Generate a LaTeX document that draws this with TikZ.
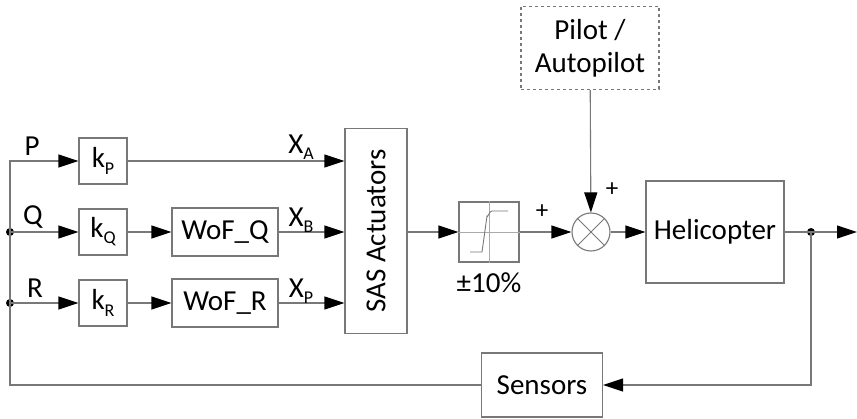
\documentclass[tikz,border=0pt]{standalone}
\usepackage{tikz}
\usetikzlibrary{arrows.meta,positioning}
\usepackage{fontspec}
\setmainfont{Carlito}
\definecolor{LineGray}{RGB}{120,120,120}
\definecolor{IconGray}{RGB}{170,170,170}
\newcommand{\lowsub}[1]{\raisebox{-0.45ex}{\fontsize{18}{18}\selectfont #1}}

\begin{document}
\begin{tikzpicture}[x=1pt, y=-1pt,
    blk/.style={draw=LineGray, line width=1.1pt, inner sep=0pt, align=center, font=\fontsize{29}{33}\selectfont},
    gain/.style={blk, minimum width=48pt, minimum height=46pt},
    wof/.style={blk, minimum width=106pt, minimum height=48pt},
    lbl/.style={font=\fontsize{29}{33}\selectfont, inner sep=0pt},
    sgn/.style={font=\fontsize{25}{29}\selectfont, inner sep=0pt},
    line/.style={draw=LineGray, line width=1.1pt},
    arr/.style={line, -{Triangle[length=20pt, width=13pt, color=black]}},
    jdot/.style={circle, fill=black, inner sep=0pt, minimum size=8pt}
]
\useasboundingbox (0,0) rectangle (857,419);

%% ---- GAINS AND FILTERS ----
\node[gain] (kp)   at (103,161) {k\lowsub{P}};
\node[gain] (kq)   at (103,232) {k\lowsub{Q}};
\node[gain] (kr)   at (103,303) {k\lowsub{R}};
\node[wof]  (wofq) at (225,232) {WoF\_Q};
\node[wof]  (wofr) at (225,303) {WoF\_R};
\node[blk, rotate=90, minimum width=205pt, minimum height=62pt] (sas) at (376,231) {SAS Actuators};

%% ---- FORWARD PATH ----
\node[blk, minimum width=60pt, minimum height=60pt] (sat) at (489,232) {};
\node[lbl] (lim) at (489,283) {±10\%};
\node[circle, draw=LineGray, line width=1.1pt, minimum size=38pt, inner sep=0pt] (sum) at (591,232) {};
\node[blk, minimum width=138pt, minimum height=102pt] (heli) at (715,232) {Helicopter};
\node[blk, dashed, minimum width=138pt, minimum height=83pt] (pilot) at (590,48) {Pilot /\\Autopilot};
\node[blk, minimum width=121pt, minimum height=64pt] (sens) at (542,385) {Sensors};

%% ---- JUNCTIONS ----
\coordinate (lt)  at (10,161);
\node[jdot] (jq) at (10,232) {};
\node[jdot] (jr) at (10,303) {};
\node[jdot] (jo) at (811,232) {};
\coordinate (out) at (857,232);

%% ---- SATURATION ICON ----
\draw[IconGray, line width=0.9pt] (sat.west) -- (sat.east) (sat.north) -- (sat.south);
\draw[LineGray, line width=0.9pt] (470,252) -- (482,252) -- (487,216) to[out=-80,in=180] (492,211) -- (508,211);

%% ---- SUMMING JUNCTION ----
\draw[LineGray, line width=0.9pt] (sum.north west) -- (sum.south east) (sum.north east) -- (sum.south west);

%% ---- ARROWS ----
\draw[arr] (sens.west) -| (lt) -- (kp.west);
\draw[arr] (jq.center) -- (kq.west);
\draw[arr] (jr.center) -- (kr.west);
\draw[arr] (kq) -- (wofq);
\draw[arr] (kr) -- (wofr);
\draw[arr] (kp.east) -- (kp.east -| sas.north);
\draw[arr] (wofq.east) -- (wofq.east -| sas.north);
\draw[arr] (wofr.east) -- (wofr.east -| sas.north);
\draw[arr] (sas.south |- sat.west) -- (sat.west);
\draw[arr] (sat) -- (sum);
\draw[arr] (pilot) -- (sum);
\draw[arr] (sum) -- (heli);
\draw[arr] (heli) -- (out);
\draw[arr] (jo.center) |- (sens.east);

%% ---- LABELS ----
\node[lbl] at (32,146) {P};
\node[lbl] at (33,217) {Q};
\node[lbl] at (35,288) {R};
\node[lbl] at (301,147) {X\lowsub{A}};
\node[lbl] at (301,220) {X\lowsub{B}};
\node[lbl] at (301,291) {X\lowsub{P}};
\node[sgn] at (542,212) {+};
\node[sgn] at (612,190) {+};

\end{tikzpicture}
\end{document}
